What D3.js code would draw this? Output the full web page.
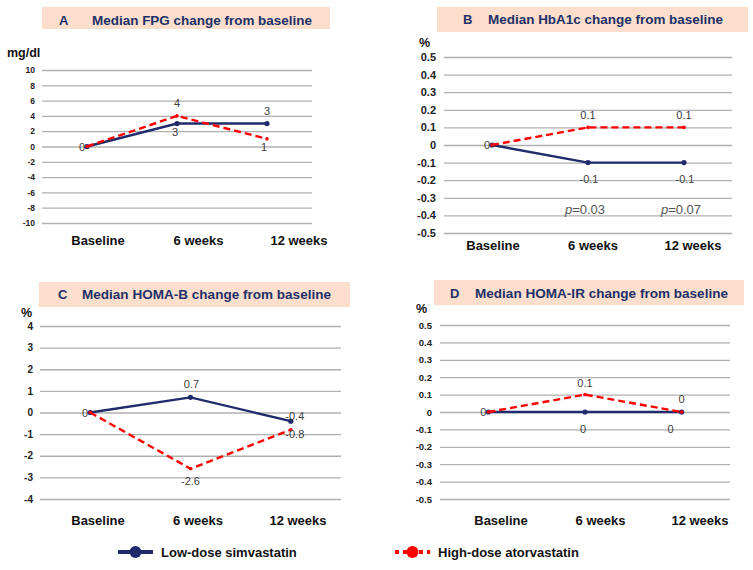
<!DOCTYPE html>
<html><head><meta charset="utf-8">
<script src="https://cdn.jsdelivr.net/npm/d3@7"></script>
<style>
html,body{margin:0;padding:0;background:#fff;}
svg{display:block;font-family:Arial,"Liberation Sans",sans-serif;}
</style></head>
<body>
<svg id="chart" width="753" height="570"></svg>
<script>
// ---------- DATA ----------
const categories = ["Baseline", "6 weeks", "12 weeks"];
const seriesNames = ["Low-dose simvastatin", "High-dose atorvastatin"];

const fpgLow = [0, 3, 3];
const fpgHigh = [0, 4, 1];
const fpgTicks = [-10, -8, -6, -4, -2, 0, 2, 4, 6, 8, 10];

const hba1cLow = [0, -0.1, -0.1];
const hba1cHigh = [0, 0.1, 0.1];
const hba1cTicks = [-0.5, -0.4, -0.3, -0.2, -0.1, 0, 0.1, 0.2, 0.3, 0.4, 0.5];
const hba1cPValues = ["", "0.03", "0.07"];

const homaBLow = [0, 0.7, -0.4];
const homaBHigh = [0, -2.6, -0.8];
const homaBTicks = [-4, -3, -2, -1, 0, 1, 2, 3, 4];

const homaIRLow = [0, 0, 0];
const homaIRHigh = [0, 0.1, 0];
const homaIRTicks = [-0.5, -0.4, -0.3, -0.2, -0.1, 0, 0.1, 0.2, 0.3, 0.4, 0.5];

const titles = ["Median FPG change from baseline", "Median HbA1c change from baseline",
                "Median HOMA-B change from baseline", "Median HOMA-IR change from baseline"];
const panelLetters = ["A", "B", "C", "D"];
const units = ["mg/dl", "%", "%", "%"];

// ---------- LAYOUT / STYLE ----------
const NAVY = "#1f2b6b", RED = "#ff0000", TITLE = "#1f3068", GRID = "#b0b0b0", LBL = "#404040";

const panels = [
  { low: fpgLow, high: fpgHigh, ticks: fpgTicks, fmt: d => d,
    gx: [42, 312], gy: [223, 70], tickX: 35, tickSize: 8.5,
    catRange: [98, 299], catY: 245,
    box: [42, 7, 288, 22], letterX: 59, titleX: 92, titleY: 25, titleLen: 220,
    unitX: 7, unitY: 57,
    lowLbl: [["l"], ["b", -2, 12.5], ["a", 0, -8.5]],
    highLbl: [null, ["a", 0, -9], ["b", -3, 12.5]] },
  { low: hba1cLow, high: hba1cHigh, ticks: hba1cTicks, fmt: d => d,
    gx: [444, 732], gy: [233, 57], tickX: 436, tickSize: 11,
    catRange: [493, 693], catY: 250,
    box: [437, 7, 311, 25], letterX: 463, titleX: 488, titleY: 24, titleLen: 235,
    unitX: 419, unitY: 47,
    lowLbl: [["l"], ["b", 1, 20], ["b", 1, 20]],
    highLbl: [null, ["a", 0, -8.5], ["a", 0, -8.5]] },
  { low: homaBLow, high: homaBHigh, ticks: homaBTicks, fmt: d => d,
    gx: [40, 341], gy: [499, 326], tickX: 33, tickSize: 10,
    catRange: [98, 298], catY: 525,
    box: [39, 282, 311, 25], letterX: 58, titleX: 82, titleY: 299, titleLen: 249,
    unitX: 21, unitY: 317,
    lowLbl: [["l"], ["a", 1, -9], ["a", 4, -1.5]],
    highLbl: [null, ["b", 0, 16.5], ["b", 4, 8.5]] },
  { low: homaIRLow, high: homaIRHigh, ticks: homaIRTicks, fmt: d => d,
    gx: [440, 730], gy: [499, 325], tickX: 432, tickSize: 9.5,
    catRange: [501, 700], catY: 525,
    box: [434, 280, 310, 25], letterX: 450, titleX: 475, titleY: 298, titleLen: 253,
    unitX: 416, unitY: 313,
    lowLbl: [["l"], ["b", -2, 20.5], ["b", -11, 20.5]],
    highLbl: [null, ["a", 0, -8], ["a", 0, -9]] }
];

const svg = d3.select("#chart");

panels.forEach((p, i) => {
  const g = svg.append("g");
  const x = d3.scalePoint().domain(categories).range(p.gx).padding(0.5);
  const y = d3.scaleLinear().domain([p.ticks[0], p.ticks[p.ticks.length - 1]]).range(p.gy);
  const xc = d3.scalePoint().domain(categories).range(p.catRange);

  // title box
  g.append("rect").attr("x", p.box[0]).attr("y", p.box[1]).attr("width", p.box[2]).attr("height", p.box[3])
    .attr("fill", "#fbdfcc");
  g.append("text").attr("x", p.letterX).attr("y", p.titleY).attr("fill", TITLE)
    .attr("font-weight", "bold").attr("font-size", 13).text(panelLetters[i]);
  g.append("text").attr("x", p.titleX).attr("y", p.titleY).attr("fill", TITLE)
    .attr("font-weight", "bold").attr("font-size", 13)
    .attr("textLength", p.titleLen).attr("lengthAdjust", "spacingAndGlyphs").text(titles[i]);

  // unit
  g.append("text").attr("x", p.unitX).attr("y", p.unitY).attr("font-weight", "bold")
    .attr("font-size", 12.5).attr("fill", "#111").text(units[i]);

  // grid & y axis
  const axis = d3.axisLeft(y).tickValues(p.ticks).tickSize(-(p.gx[1] - p.gx[0])).tickPadding(p.gx[0] - p.tickX)
    .tickFormat(p.fmt);
  const ag = g.append("g").attr("transform", `translate(${p.gx[0]},0)`).call(axis);
  ag.select(".domain").remove();
  ag.selectAll(".tick line").attr("stroke", GRID).attr("stroke-width", 1.3);
  ag.selectAll(".tick text").attr("font-size", p.tickSize).attr("font-weight", "bold")
    .attr("fill", "#222").attr("font-family", "Arial,'Liberation Sans',sans-serif");

  // category labels
  g.selectAll(".cat").data(categories).enter().append("text")
    .attr("x", d => xc(d)).attr("y", p.catY).attr("text-anchor", "middle")
    .attr("font-weight", "bold").attr("font-size", 13).attr("fill", "#111").text(d => d);

  const line = d3.line().x((d, j) => x(categories[j])).y(d => y(d));

  // low-dose line
  g.append("path").datum(p.low).attr("d", line).attr("fill", "none")
    .attr("stroke", NAVY).attr("stroke-width", 2.4);
  g.selectAll(".lowpt").data(p.low).enter().append("circle")
    .attr("cx", (d, j) => x(categories[j])).attr("cy", d => y(d)).attr("r", 2.6).attr("fill", NAVY);

  // high-dose line
  g.append("path").datum(p.high).attr("d", line).attr("fill", "none")
    .attr("stroke", RED).attr("stroke-width", 2.4).attr("stroke-dasharray", "7,4");
  g.selectAll(".highpt").data(p.high).enter().append("circle")
    .attr("cx", (d, j) => x(categories[j])).attr("cy", d => y(d)).attr("r", 1.8).attr("fill", RED);

  // data labels
  function labels(vals, spec) {
    vals.forEach((v, j) => {
      const s = spec[j];
      if (!s) return;
      const px = x(categories[j]), py = y(v);
      const t = g.append("text").attr("font-size", 11).attr("fill", LBL).text(v);
      if (s[0] === "l") {
        t.attr("x", px - 2).attr("y", py + 4).attr("text-anchor", "end");
      } else {
        t.attr("x", px + s[1]).attr("y", py + s[2]).attr("text-anchor", "middle");
      }
    });
  }
  labels(p.low, p.lowLbl);
  labels(p.high, p.highLbl);

  // p-values
  if (i === 1) {
    hba1cPValues.forEach((pv, j) => {
      if (!pv) return;
      const t = g.append("text").attr("x", x(categories[j]) - 3).attr("y", 214)
        .attr("text-anchor", "middle").attr("font-size", 13).attr("fill", "#555");
      t.append("tspan").attr("font-style", "italic").text("p");
      t.append("tspan").text("=" + pv);
    });
  }
});

// legend
const leg = svg.append("g");
const legItems = [
  { name: seriesNames[0], color: NAVY, dash: null, x0: 118, tx: 161 },
  { name: seriesNames[1], color: RED, dash: "4,4", x0: 395, tx: 438 }
];
legItems.forEach(it => {
  leg.append("line").attr("x1", it.x0).attr("x2", it.x0 + 35).attr("y1", 552).attr("y2", 552)
    .attr("stroke", it.color).attr("stroke-width", 4).attr("stroke-dasharray", it.dash);
  leg.append("circle").attr("cx", it.x0 + 17.5).attr("cy", 552).attr("r", 6).attr("fill", it.color);
  leg.append("text").attr("x", it.tx).attr("y", 557).attr("font-weight", "bold").attr("font-size", 13)
    .attr("fill", "#111").text(it.name);
});
</script>
</body></html>
